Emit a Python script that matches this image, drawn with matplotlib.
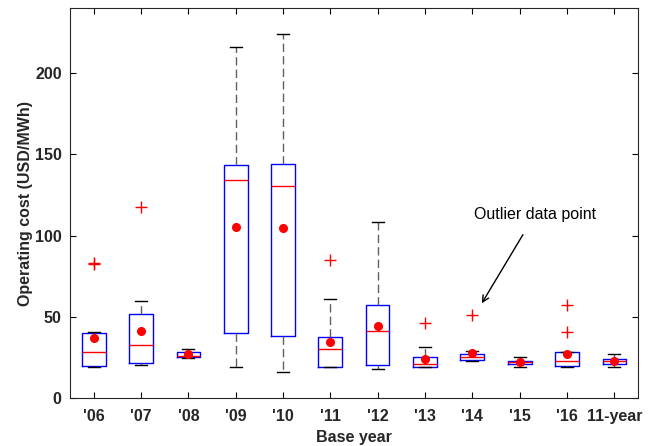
import matplotlib
matplotlib.use('Agg')
import matplotlib.pyplot as plt

plt.rcParams['font.family'] = ['Liberation Sans', 'DejaVu Sans']

# Lecture des valeurs sur la figure de référence
labels = ["'06", "'07", "'08", "'09", "'10", "'11", "'12", "'13", "'14", "'15", "'16", "11-year"]
q1 = [19.9, 21.6, 25.1, 39.8, 38.2, 19.1, 20.1, 18.9, 23.6, 20.7, 19.9, 20.7]
med = [28.5, 32.6, 25.9, 134.1, 130.2, 30.0, 41.1, 20.7, 25.5, 22.2, 23.0, 22.6]
q3 = [39.8, 51.9, 28.1, 143.5, 143.7, 37.8, 57.5, 25.5, 27.3, 23.0, 28.1, 23.8]
whislo = [19.3, 20.1, 24.4, 18.9, 16.2, 18.9, 17.9, 18.9, 22.8, 19.3, 18.9, 19.3]
whishi = [40.5, 59.9, 30.0, 215.8, 223.8, 61.0, 108.6, 31.4, 28.9, 25.5, 28.1, 27.1]
means = [36.8, 41.5, 26.9, 105.5, 104.7, 34.7, 44.5, 24.2, 27.7, 22.2, 27.3, 22.6]
outliers = [[82.2, 83.0], [117.5], [], [], [], [85.0], [], [46.2], [51.1], [], [57.1, 40.5], []]

stats = []
for i in range(len(labels)):
    stats.append(dict(label=labels[i], q1=q1[i], med=med[i], q3=q3[i],
                      whislo=whislo[i], whishi=whishi[i], mean=means[i],
                      fliers=outliers[i]))

fig = plt.figure(figsize=(6.5, 4.46), dpi=100)
ax = fig.add_axes([70 / 650, 48 / 446, 568 / 650, 390 / 446])

ax.bxp(stats, widths=0.5, capwidths=0.25, showmeans=True, patch_artist=False,
       boxprops=dict(color='blue', linewidth=1.0),
       medianprops=dict(color='red', linewidth=1.0),
       whiskerprops=dict(color='#606060', linestyle=(0, (6, 3)), linewidth=1.0),
       capprops=dict(color='black', linewidth=1.0),
       flierprops=dict(marker='+', markeredgecolor='red', markersize=8.5, linestyle='none'),
       meanprops=dict(marker='o', markerfacecolor='red', markeredgecolor='red', markersize=5.5))

ax.set_xlim(0.5, 12.5)
ax.set_ylim(0, 240)
ax.set_yticks([0, 50, 100, 150, 200])
ax.tick_params(direction='in', top=True, right=True, length=4, labelsize=11.5)
ax.tick_params(axis='x', pad=8)
ax.tick_params(axis='y', pad=6)
for lab in ax.get_xticklabels() + ax.get_yticklabels():
    lab.set_fontweight('bold')
    lab.set_color('#262626')
for s in ax.spines.values():
    s.set_color('#262626')

ax.set_ylabel('Operating cost (USD/MWh)', fontsize=11.5, fontweight='bold', color='#262626', labelpad=1)
ax.set_xlabel('Base year', fontsize=11.5, fontweight='bold', color='#262626', labelpad=4)

ax.annotate('Outlier data point', xy=(9.20, 58.3), xytext=(10.32, 112.7),
            ha='center', va='center', fontsize=11.5,
            arrowprops=dict(arrowstyle='->', color='black', lw=1.0,
                            shrinkA=8, shrinkB=0))

plt.savefig('out.png', dpi=100)
plt.close()
